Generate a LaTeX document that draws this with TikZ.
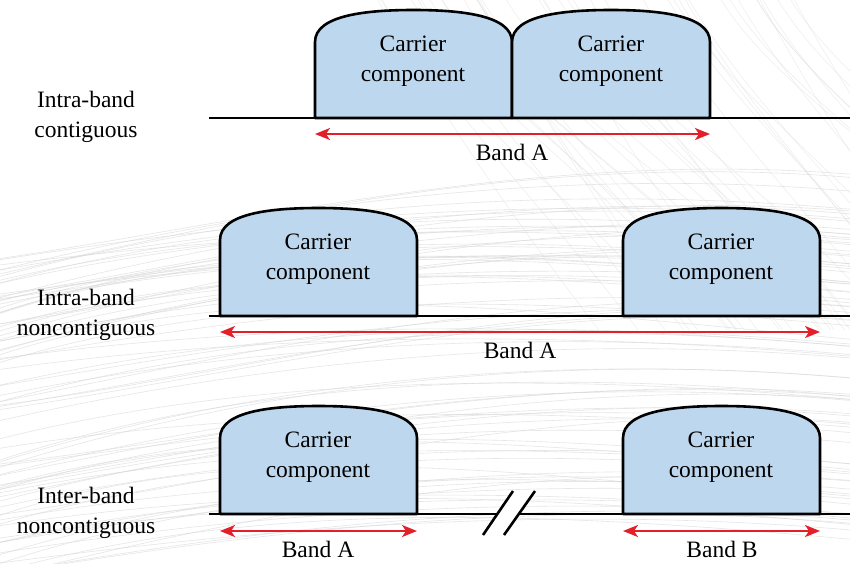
\documentclass[tikz,border=0pt]{standalone}
\usepackage{fontspec}
\setmainfont{Liberation Serif}
\usetikzlibrary{arrows.meta}
\definecolor{ccfill}{HTML}{BDD7EE}
\definecolor{bandred}{HTML}{E3202A}
\tikzset{
  dome/.style={draw=black, line width=2.6pt, fill=ccfill, line join=round},
  baseln/.style={draw=black, line width=2pt},
  bandarrow/.style={draw=bandred, line width=2pt, {Stealth[length=15pt,width=12pt,inset=4pt]}-{Stealth[length=15pt,width=12pt,inset=4pt]}},
  bigtext/.style={font=\fontsize{23.5}{29.5}\selectfont, align=center, inner sep=0pt},
  texA/.style={draw=gray!35, line width=0.6pt, opacity=0.55},
  texB/.style={draw=gray!30, line width=0.5pt, opacity=0.45}
}
% dome: x1, x2, base y
\newcommand{\ccdome}[3]{%
  \pgfmathsetmacro{\xa}{#1}\pgfmathsetmacro{\xb}{#2}%
  \pgfmathsetmacro{\xm}{(#1+#2)/2}%
  \pgfmathsetmacro{\xc}{#1+52}\pgfmathsetmacro{\xd}{#2-52}%
  \pgfmathsetmacro{\ys}{#3-76}\pgfmathsetmacro{\yc}{#3-103}\pgfmathsetmacro{\yt}{#3-108}%
  \path[dome] (\xa,#3) -- (\xa,\ys) .. controls (\xa,\yc) and (\xc,\yt) .. (\xm,\yt)
     .. controls (\xd,\yt) and (\xb,\yc) .. (\xb,\ys) -- (\xb,#3) -- cycle;
}
\begin{document}
\begin{tikzpicture}[x=1pt,y=-1pt]
\path[fill=white] (0,0) rectangle (850,563);
\useasboundingbox (0,0) rectangle (850,563);
% background texture
\begin{scope}
\clip (0,0) rectangle (850,563);
\pgfmathsetseed{7}
\foreach \i in {1,...,80}{
  \pgfmathsetmacro{\ya}{260+rnd*320}
  \pgfmathsetmacro{\yb}{\ya-30-rnd*60}
  \pgfmathsetmacro{\yc}{\ya-40-rnd*90}
  \draw[texA] (-10,\ya) .. controls (250,\yb) and (550,\yc) .. (870,\yc+30);
}
\foreach \i in {1,...,40}{
  \pgfmathsetmacro{\xa}{350+rnd*450}
  \pgfmathsetmacro{\xb}{\xa+150+rnd*150}
  \draw[texB] (\xa,-10) .. controls (\xa+60,100) and (\xb-40,200) .. (\xb+60,330);
}
\end{scope}
% ---------- Row 1: intra-band contiguous ----------
\coordinate (r1l) at (209,118); \coordinate (r1r) at (850,118);
\draw[baseln] (r1l) -- (r1r);
\ccdome{315}{512}{118}
\ccdome{512}{710}{118}
\node[bigtext] (cc1a) at (413,61) {Carrier\\component};
\node[bigtext] (cc1b) at (611,61) {Carrier\\component};
\coordinate (a1l) at (315,134); \coordinate (a1r) at (710,134);
\draw[bandarrow] (a1l) -- (a1r);
\node[bigtext] (band1) at (512,152) {Band A};
\node[bigtext] (lab1) at (86,117) {Intra-band\\contiguous};
% ---------- Row 2: intra-band noncontiguous ----------
\coordinate (r2l) at (209,316); \coordinate (r2r) at (850,316);
\draw[baseln] (r2l) -- (r2r);
\ccdome{220}{417}{316}
\ccdome{623}{820}{316}
\node[bigtext] (cc2a) at (318,259) {Carrier\\component};
\node[bigtext] (cc2b) at (721,259) {Carrier\\component};
\coordinate (a2l) at (220,332); \coordinate (a2r) at (820,332);
\draw[bandarrow] (a2l) -- (a2r);
\node[bigtext] (band2) at (520,350) {Band A};
\node[bigtext] (lab2) at (86,315) {Intra-band\\noncontiguous};
% ---------- Row 3: inter-band noncontiguous ----------
\coordinate (r3l) at (209,514); \coordinate (r3r) at (850,514);
\draw[baseln] (r3l) -- (r3r);
\ccdome{220}{417}{514}
\ccdome{623}{820}{514}
\node[bigtext] (cc3a) at (318,457) {Carrier\\component};
\node[bigtext] (cc3b) at (721,457) {Carrier\\component};
% break mark
\coordinate (bk1) at (483,535); \coordinate (bk2) at (513,491);
\coordinate (bk3) at (535,491); \coordinate (bk4) at (504,535);
\fill[white] (bk1) -- (bk2) -- (bk3) -- (bk4) -- cycle;
\draw[black, line width=2.6pt] (bk1) -- (bk2);
\draw[black, line width=2.6pt] (bk4) -- (bk3);
\coordinate (a3l) at (220,531); \coordinate (a3r) at (417,531);
\coordinate (a4l) at (623,531); \coordinate (a4r) at (820,531);
\draw[bandarrow] (a3l) -- (a3r);
\draw[bandarrow] (a4l) -- (a4r);
\node[bigtext] (band3) at (318,549) {Band A};
\node[bigtext] (band4) at (722,549) {Band B};
\node[bigtext] (lab3) at (86,513) {Inter-band\\noncontiguous};
\end{tikzpicture}
\end{document}
